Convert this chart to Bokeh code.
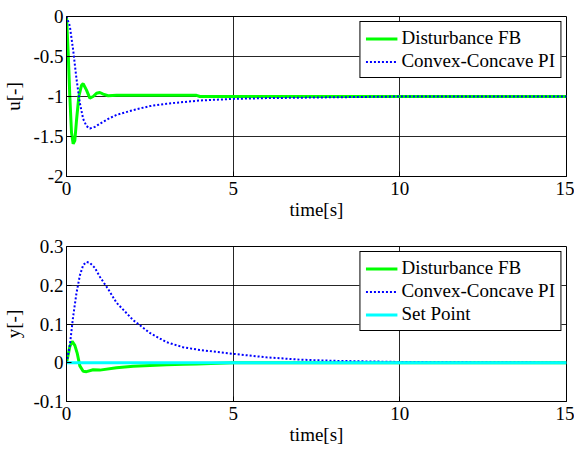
from bokeh.plotting import figure
from bokeh.layouts import column
from bokeh.models import FixedTicker, Range1d, Legend, LegendItem
from bokeh.embed import file_html
from bokeh.resources import INLINE

# ---------------- data ----------------
t_u_fb = [0, 0.05, 0.1, 0.15, 0.2, 0.25, 0.3, 0.37, 0.45, 0.5, 0.6, 0.7, 0.8, 0.9, 1.0,
          1.1, 1.25, 1.5, 2.0, 3.0, 3.9, 4.0, 6.0, 10.0, 15.0]
u_fb = [0, -0.45, -1.0, -1.45, -1.59, -1.55, -1.3, -1.0, -0.86, -0.84, -0.92, -1.02, -1.0,
        -0.96, -0.95, -0.97, -0.99, -0.985, -0.985, -0.985, -0.985, -1.0, -1.0, -1.0, -1.0]

t_u_pi = [0, 0.1, 0.2, 0.3, 0.4, 0.5, 0.6, 0.7, 0.85, 1.0, 1.25, 1.5, 2.0, 2.5, 3.0,
          4.0, 5.0, 6.0, 7.0, 8.0, 9.0, 10.0, 12.0, 15.0]
u_pi = [0, -0.12, -0.42, -0.78, -1.08, -1.28, -1.37, -1.40, -1.38, -1.34, -1.28, -1.23,
        -1.17, -1.12, -1.09, -1.05, -1.03, -1.02, -1.015, -1.01, -1.005, -1.0, -1.0, -1.0]

t_y_fb = [0, 0.05, 0.1, 0.17, 0.25, 0.32, 0.4, 0.5, 0.6, 0.8, 1.0, 1.5, 2.0, 2.5, 3.0,
          3.5, 3.9, 5.0, 15.0]
y_fb = [0, 0.02, 0.042, 0.055, 0.045, 0.025, -0.008, -0.022, -0.023, -0.018, -0.019,
        -0.013, -0.009, -0.007, -0.005, -0.004, -0.003, 0, 0]

t_y_pi = [0, 0.1, 0.2, 0.3, 0.4, 0.5, 0.6, 0.7, 0.85, 1.0, 1.25, 1.5, 2.0, 2.5, 3.0,
          3.5, 4.0, 5.0, 6.0, 7.0, 8.0, 10.0, 12.0, 15.0]
y_pi = [0, 0.045, 0.12, 0.18, 0.225, 0.252, 0.26, 0.258, 0.245, 0.222, 0.19, 0.155,
        0.11, 0.077, 0.053, 0.04, 0.033, 0.023, 0.014, 0.008, 0.005, 0.002, 0.001, 0]

t_sp = [0, 15]
y_sp = [0, 0]

x_ticks = [0, 5, 10, 15]
x_labels = ["0", "5", "10", "15"]
u_ticks = [-2, -1.5, -1, -0.5, 0]
u_labels = ["-2", "-1.5", "-1", "-0.5", "0"]
y_ticks = [-0.1, 0, 0.1, 0.2, 0.3]
y_labels = ["-0.1", "0", "0.1", "0.2", "0.3"]

names = ["Disturbance FB", "Convex-Concave PI", "Set Point"]

FONT = "'Liberation Serif', 'Times New Roman', serif"
FS = "19px"
GREEN = "#00ff00"
BLUE = "#0000ff"
CYAN = "#00ffff"


def style(p, xt, xl, yt, yl, ylabel):
    p.xaxis.ticker = FixedTicker(ticks=xt)
    p.yaxis.ticker = FixedTicker(ticks=yt)
    p.xaxis.major_label_overrides = {t: l for t, l in zip(xt, xl)}
    p.yaxis.major_label_overrides = {t: l for t, l in zip(yt, yl)}
    p.xaxis.axis_label = "time[s]"
    p.yaxis.axis_label = ylabel
    for ax in (p.xaxis[0], p.yaxis[0]):
        ax.axis_label_text_font = FONT
        ax.axis_label_text_font_size = FS
        ax.axis_label_text_font_style = "normal"
        ax.axis_label_text_color = "black"
        ax.major_label_text_font = FONT
        ax.major_label_text_font_size = FS
        ax.major_label_text_color = "black"
        ax.axis_line_color = "black"
        ax.major_tick_in = 5
        ax.major_tick_out = 0
        ax.minor_tick_in = 0
        ax.minor_tick_out = 0
        ax.major_tick_line_color = "black"
    p.xaxis.major_label_standoff = 5
    p.xaxis.axis_label_standoff = 1
    p.yaxis.major_label_standoff = 3
    p.yaxis.axis_label_standoff = 6
    p.xgrid.ticker = FixedTicker(ticks=xt)
    p.ygrid.ticker = FixedTicker(ticks=yt)
    for g in (p.xgrid[0], p.ygrid[0]):
        g.grid_line_color = "black"
        g.grid_line_width = 1
        g.grid_line_alpha = 0.85
    p.outline_line_color = "black"
    p.outline_line_width = 1
    p.outline_line_alpha = 1
    p.background_fill_color = "white"
    p.border_fill_color = "white"


def make_legend(p, items):
    leg = Legend(items=items, location="top_right")
    leg.label_text_font = FONT
    leg.label_text_font_size = FS
    leg.label_text_color = "black"
    leg.border_line_color = "black"
    leg.border_line_width = 1
    leg.border_line_alpha = 1
    leg.background_fill_alpha = 1
    leg.padding = 5
    leg.spacing = 1
    leg.margin = 5
    leg.label_height = 21
    leg.glyph_height = 21
    leg.glyph_width = 32
    leg.label_standoff = 4
    p.add_layout(leg, "center")


# ---------------- top plot ----------------
p1 = figure(width=574, height=222, output_backend="svg", toolbar_location=None,
            x_range=Range1d(0, 15), y_range=Range1d(-2, 0),
            min_border_left=57, min_border_right=8, min_border_top=16, min_border_bottom=10)
style(p1, x_ticks, x_labels, u_ticks, u_labels, "u[-]")
r1 = p1.line(t_u_fb, u_fb, line_color=GREEN, line_width=3)
r2 = p1.line(t_u_pi, u_pi, line_color=BLUE, line_width=2, line_dash="2 2")
make_legend(p1, [LegendItem(label=names[0], renderers=[r1]),
                 LegendItem(label=names[1], renderers=[r2])])

# ---------------- bottom plot ----------------
p2 = figure(width=574, height=225, output_backend="svg", toolbar_location=None,
            x_range=Range1d(0, 15), y_range=Range1d(-0.1, 0.3),
            min_border_left=57, min_border_right=8, min_border_top=24, min_border_bottom=10)
style(p2, x_ticks, x_labels, y_ticks, y_labels, "y[-]")
s1 = p2.line(t_y_fb, y_fb, line_color=GREEN, line_width=3)
s2 = p2.line(t_y_pi, y_pi, line_color=BLUE, line_width=2, line_dash="2 2")
s3 = p2.line(t_sp, y_sp, line_color=CYAN, line_width=3)
make_legend(p2, [LegendItem(label=names[0], renderers=[s1]),
                 LegendItem(label=names[1], renderers=[s2]),
                 LegendItem(label=names[2], renderers=[s3])])

layout = column(p1, p2, spacing=0)
open("out.html", "w").write(file_html(layout, INLINE))
